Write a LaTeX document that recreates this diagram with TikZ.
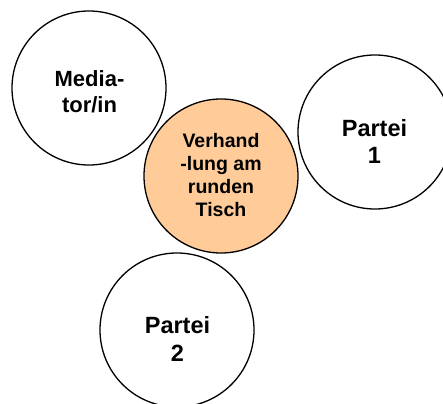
\documentclass[tikz,border=0pt]{standalone}
\usepackage{fontspec}
\setmainfont{Liberation Sans}
\definecolor{tisch}{HTML}{FFCC99}
\begin{document}
\begin{tikzpicture}[x=1pt,y=-1pt,
  ring/.style={circle,draw=black,line width=1.3pt,minimum size=154pt,inner sep=0pt},
  lbl/.style={align=center,font=\bfseries}]
\useasboundingbox (0,0) rectangle (443,403);
\clip (0,0) rectangle (443,403);
\node[ring,fill=white] (med) at (89,88) {};
\node[ring,fill=white] (p1) at (375,132) {};
\node[ring,fill=white] (p2) at (177,330) {};
\node[ring,fill=tisch] (tisch) at (221,176) {};
\node[lbl,font=\bfseries\fontsize{22}{26}\selectfont] (tmed) at (89.5,92) {Media-\\tor/in};
\node[lbl,font=\bfseries\fontsize{19.5}{22.7}\selectfont] (ttisch) at (221,175) {Verhand\\-lung am\\runden\\Tisch};
\node[lbl,font=\bfseries\fontsize{23.5}{27.5}\selectfont] (tp1) at (374.5,141.5) {Partei\\1};
\node[lbl,font=\bfseries\fontsize{23.5}{28}\selectfont] (tp2) at (177.5,338.5) {Partei\\2};
\end{tikzpicture}
\end{document}
